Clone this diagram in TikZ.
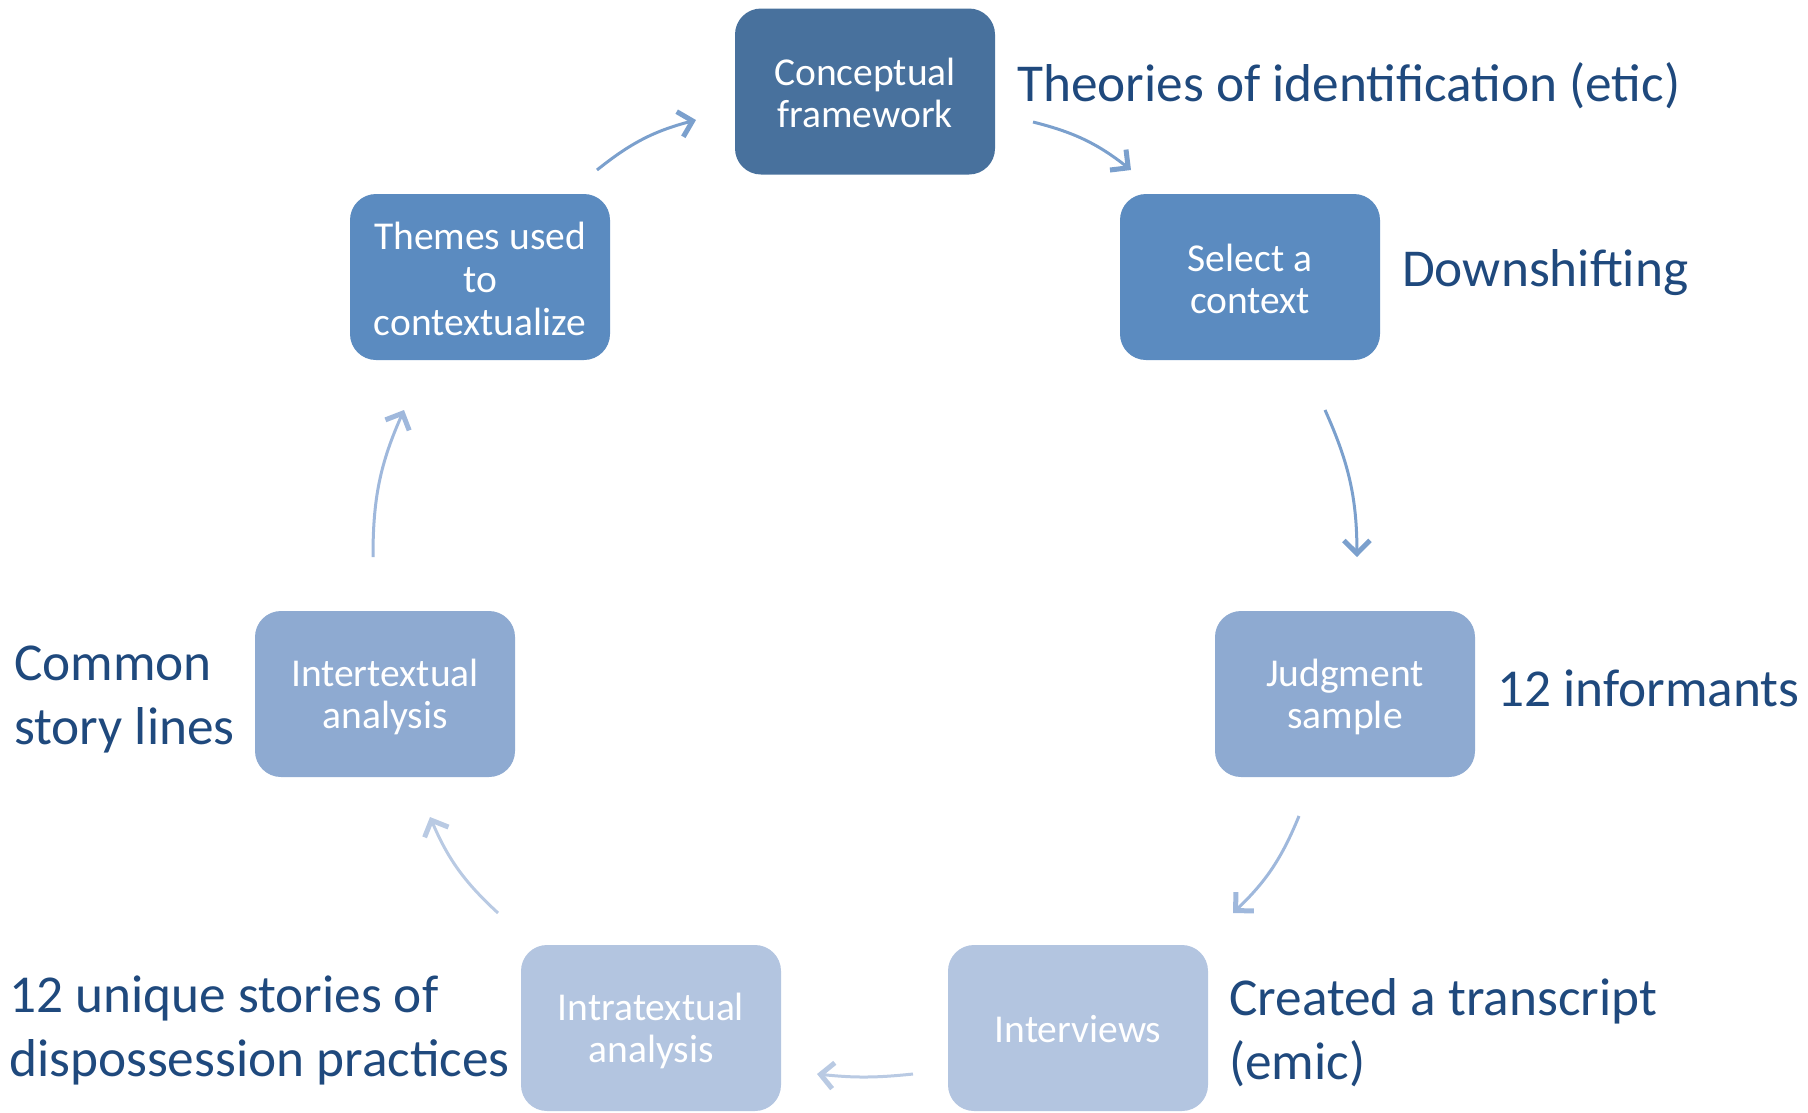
\documentclass[tikz,border=0pt]{standalone}
\usepackage{fontspec}
\setmainfont{Carlito}
\usetikzlibrary{arrows.meta}
\definecolor{cdark}{HTML}{48719D}
\definecolor{cmid}{HTML}{5B8BC0}
\definecolor{clight}{HTML}{8EAAD1}
\definecolor{cpale}{HTML}{B3C5E0}
\definecolor{ctext}{HTML}{1F497D}
\definecolor{aone}{HTML}{7BA0CD}
\definecolor{atwo}{HTML}{9FB8DC}
\definecolor{athree}{HTML}{B9CAE3}
\tikzset{
  stepbox/.style={rounded corners=26pt, minimum width=260pt, minimum height=166pt,
    inner sep=0pt, align=center, text=white,
    font=\fontsize{39.5}{42.7}\selectfont},
  lbl/.style={anchor=west, inner sep=0pt, align=left, text=ctext,
    font=\fontsize{53.3}{64}\selectfont},
  cyc/.style={line width=3pt, -{Straight Barb[length=13pt,width=26pt,line width=5pt]}, bend left=12}
}
\begin{document}
\begin{tikzpicture}[x=1pt,y=-1pt]
\useasboundingbox (0,0) rectangle (1808,1112);
\node[stepbox, fill=cdark] (cf) at (865,91.5) {};
\node[text=white, align=center, font=\fontsize{39.5}{42.7}\selectfont] (cft) at (865,93) {Conceptual\\framework};
\node[stepbox, fill=cmid] (sc) at (1250,277) {};
\node[text=white, align=center, font=\fontsize{39.5}{42.7}\selectfont] (sct) at (1250,279) {Select a\\context};
\node[stepbox, fill=clight] (js) at (1345,694) {};
\node[text=white, align=center, font=\fontsize{39.5}{42.7}\selectfont] (jst) at (1345,697) {Judgment\\sample};
\node[stepbox, fill=cpale] (iv) at (1078,1028) {};
\node[text=white, align=center, font=\fontsize{39.5}{42.7}\selectfont] (ivt) at (1078,1029) {Interviews};
\node[stepbox, fill=cpale] (ia) at (651,1028) {};
\node[text=white, align=center, font=\fontsize{39.5}{42.7}\selectfont] (iat) at (651,1031) {Intratextual\\analysis};
\node[stepbox, fill=clight] (ie) at (385,694) {};
\node[text=white, align=center, font=\fontsize{39.5}{42.7}\selectfont] (iet) at (385,697) {Intertextual\\analysis};
\node[stepbox, fill=cmid] (th) at (480,277) {};
\node[text=white, align=center, font=\fontsize{39.5}{42.7}\selectfont] (tht) at (480,279) {Themes used\\to\\contextualize};

\node[lbl] (l1) at (1017,86) {Theories of identification (etic)};
\node[lbl] (l2) at (1402,273) {Downshifting};
\node[lbl] (l3) at (1497,688) {12 informants};
\node[lbl] (l4) at (1229,1033) {Created a transcript\\(emic)};
\node[lbl] (l5) at (9,1030) {12 unique stories of\\dispossession practices};
\node[lbl] (l6) at (14,699) {Common\\story lines};

\coordinate (a1s) at (597,170); \coordinate (a1e) at (696,120);
\coordinate (a2s) at (1033,122); \coordinate (a2e) at (1131,170);
\coordinate (a3s) at (1325,410); \coordinate (a3e) at (1357,557);
\coordinate (a4s) at (1299,816); \coordinate (a4e) at (1233,913);
\coordinate (a5s) at (913,1074); \coordinate (a5e) at (817,1074);
\coordinate (a6s) at (498,913); \coordinate (a6e) at (430,817);
\coordinate (a7s) at (373,557); \coordinate (a7e) at (404,410);

\draw[cyc, aone] (a1s) to (a1e);
\draw[cyc, aone] (a2s) to (a2e);
\draw[cyc, aone] (a3s) to (a3e);
\draw[cyc, atwo] (a4s) to (a4e);
\draw[cyc, athree, bend left=6] (a5s) to (a5e);
\draw[cyc, athree] (a6s) to (a6e);
\draw[cyc, atwo] (a7s) to (a7e);
\end{tikzpicture}
\end{document}
